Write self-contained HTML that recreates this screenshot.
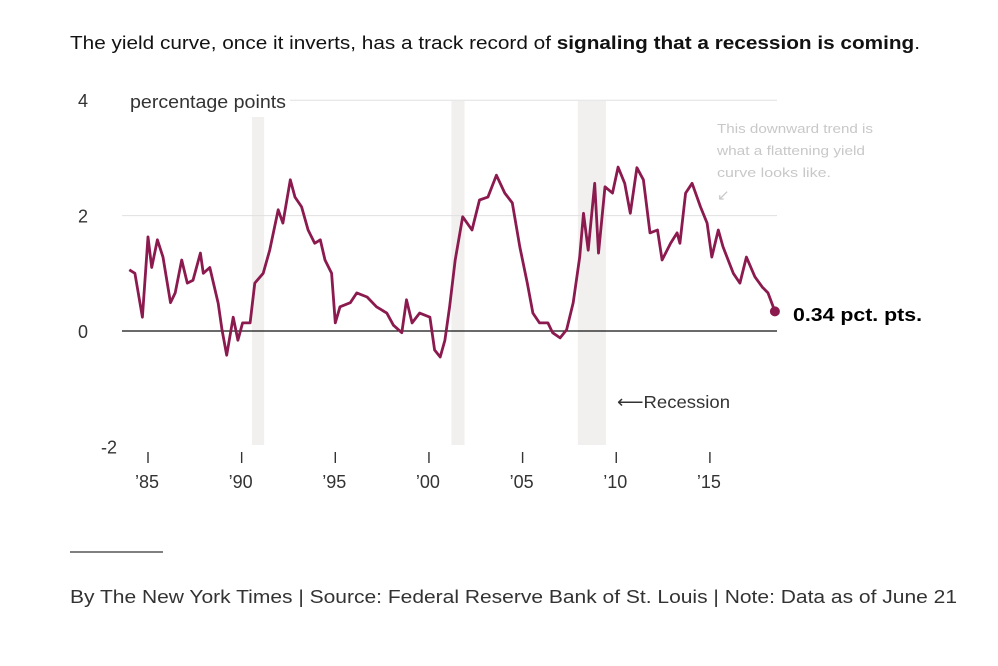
<!DOCTYPE html>
<html><head><meta charset="utf-8"><style>
body{margin:0;background:#fff;width:998px;height:666px;overflow:hidden;font-family:"Liberation Sans",Arial,sans-serif;}
</style></head><body>
<svg width="998" height="666" style="position:absolute;left:0;top:0">
<text x="70" y="49" font-size="18.5" fill="#121212" textLength="850" lengthAdjust="spacingAndGlyphs">The yield curve, once it inverts, has a track record of <tspan font-weight="bold">signaling that a recession is coming</tspan>.</text>
<g id="bands"></g><g id="grid"></g><g id="xaxis"></g>
<path id="line" fill="none" stroke="#8b1a4f" stroke-width="2.8" stroke-linejoin="round"/>
<circle id="endpt" r="5" fill="#8b1a4f"/>
<text x="793" y="321" font-size="18" font-weight="bold" fill="#000" textLength="129" lengthAdjust="spacingAndGlyphs">0.34 pct. pts.</text>
<text x="617" y="408" font-size="17.5" fill="#333" textLength="113" lengthAdjust="spacingAndGlyphs">⟵Recession</text>
<g font-size="13" fill="#c8c8c8">
<text x="717" y="133" textLength="156" lengthAdjust="spacingAndGlyphs">This downward trend is</text><text x="717" y="155" textLength="148" lengthAdjust="spacingAndGlyphs">what a flattening yield</text><text x="717" y="177" textLength="114" lengthAdjust="spacingAndGlyphs">curve looks like.</text><text x="717" y="200" font-size="15">↙</text></g>
<line x1="70" y1="552" x2="163" y2="552" stroke="#000" stroke-width="1"/>
<text x="70" y="603" font-size="18" fill="#333" textLength="887" lengthAdjust="spacingAndGlyphs">By The New York Times | Source: Federal Reserve Bank of St. Louis | Note: Data as of June 21</text>
</svg>
<script>
const yTicks=[4,2,0,-2];
const xTickYears=[1985,1990,1995,2000,2005,2010,2015];
const xTickLabels=["’85","’90","’95","’00","’05","’10","’15"];
const recessions=[[1990.55,1991.2],[2001.2,2001.9],[2007.95,2009.45]];
const years=[1984.0,1984.3,1984.7,1985.0,1985.2,1985.5,1985.8,1986.2,1986.45,1986.8,1987.1,1987.4,1987.8,1987.95,1988.3,1988.75,1988.95,1989.2,1989.55,1989.8,1990.05,1990.45,1990.7,1991.15,1991.5,1991.95,1992.2,1992.6,1992.85,1993.2,1993.55,1993.9,1994.2,1994.45,1994.8,1995.0,1995.25,1995.8,1996.15,1996.7,1997.2,1997.75,1998.1,1998.55,1998.8,1999.1,1999.5,2000.05,2000.3,2000.6,2000.85,2001.1,2001.4,2001.8,2002.3,2002.7,2003.15,2003.6,2004.05,2004.45,2004.85,2005.25,2005.55,2005.9,2006.35,2006.6,2007.0,2007.35,2007.7,2008.05,2008.25,2008.5,2008.85,2009.05,2009.4,2009.8,2010.1,2010.45,2010.75,2011.1,2011.45,2011.8,2012.2,2012.45,2012.9,2013.25,2013.4,2013.7,2014.05,2014.5,2014.85,2015.1,2015.45,2015.7,2016.25,2016.6,2016.95,2017.4,2017.8,2018.1,2018.47];
const spread=[1.06,1.0,0.24,1.63,1.1,1.58,1.28,0.49,0.66,1.23,0.83,0.88,1.35,1.0,1.1,0.48,0.02,-0.42,0.24,-0.16,0.14,0.14,0.83,1.0,1.4,2.1,1.87,2.62,2.32,2.15,1.75,1.52,1.58,1.23,1.0,0.14,0.42,0.49,0.66,0.59,0.42,0.31,0.1,-0.03,0.54,0.14,0.31,0.24,-0.33,-0.45,-0.16,0.42,1.23,1.98,1.75,2.27,2.32,2.7,2.39,2.22,1.46,0.83,0.31,0.14,0.14,-0.03,-0.12,0.02,0.49,1.28,2.04,1.4,2.56,1.35,2.5,2.39,2.84,2.56,2.04,2.83,2.62,1.7,1.75,1.23,1.52,1.7,1.52,2.39,2.56,2.15,1.87,1.28,1.75,1.46,1.0,0.83,1.28,0.94,0.76,0.66,0.34];
const X=y=>148+(y-1985)*18.73, Y=v=>331-v*57.7;
const NS="http://www.w3.org/2000/svg";
function mk(t,a,p){const e=document.createElementNS(NS,t);for(const k in a)e.setAttribute(k,a[k]);p.appendChild(e);return e;}
const bands=document.getElementById('bands');
recessions.forEach((r,i)=>{const e=mk('rect',{x:X(r[0]),y:i==0?117:101,width:X(r[1])-X(r[0]),height:(i==0?328:344),fill:'#f1f0ef'},bands);

});
const grid=document.getElementById('grid');
yTicks.forEach(t=>{const l=mk('line',{x1:t==4?290:122,x2:777,y1:Y(t),y2:Y(t),stroke:t==0?'#111':'#e0e0e0','stroke-width':t==0?1.3:1},grid);


if(t==-2)l.setAttribute('stroke','none');
const tx=mk('text',{x:t<0?117:88,y:Y(t)+7,'font-size':18,fill:'#333','text-anchor':'end'},grid);tx.textContent=t;

});
const pp=mk('text',{x:130,y:Y(4)+8,'font-size':18,fill:'#333',textLength:156,lengthAdjust:'spacingAndGlyphs'},grid);pp.textContent='percentage points';


const xa=document.getElementById('xaxis');
xTickYears.forEach((yr,i)=>{const l=mk('line',{x1:X(yr),x2:X(yr),y1:452,y2:463,stroke:'#333','stroke-width':1.4},xa);


const t=mk('text',{x:X(yr)-1,y:488,'font-size':18,fill:'#333','text-anchor':'middle'},xa);t.textContent=xTickLabels[i];

});
document.getElementById('line').setAttribute('d',years.map((y,i)=>(i?'L':'M')+X(y).toFixed(1)+' '+Y(spread[i]).toFixed(1)).join(' '));
const c=document.getElementById('endpt');c.setAttribute('cx',X(years[years.length-1]));c.setAttribute('cy',Y(spread[spread.length-1]));
</script>
</body></html>
